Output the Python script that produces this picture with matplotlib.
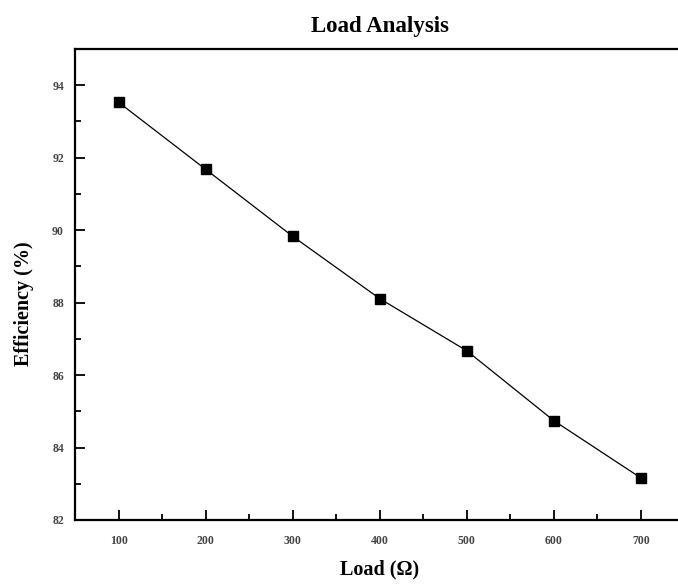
import numpy as np
import matplotlib
matplotlib.use('Agg')
import matplotlib.pyplot as plt
from matplotlib.ticker import MultipleLocator

# Efficiency measured at each load resistance
load = [100, 200, 300, 400, 500, 600, 700]
efficiency = [93.53, 91.68, 89.83, 88.11, 86.67, 84.74, 83.16]

plt.rcParams['font.family'] = ['Liberation Serif', 'DejaVu Serif']

fig = plt.figure(figsize=(6.78, 5.86), dpi=100)
ax = fig.add_axes([75 / 678, 66 / 586, 609.5 / 678, 471 / 586])

ax.plot(load, efficiency, color='black', linewidth=0.9,
        marker='s', markersize=7.5, markerfacecolor='black', markeredgecolor='black')

ax.set_xlim(50, 750)
ax.set_ylim(82, 95)
ax.xaxis.set_major_locator(MultipleLocator(100))
ax.xaxis.set_minor_locator(MultipleLocator(50))
ax.yaxis.set_major_locator(MultipleLocator(2))
ax.yaxis.set_minor_locator(MultipleLocator(1))
ax.set_xticks([100, 200, 300, 400, 500, 600, 700])

ax.tick_params(which='major', direction='in', length=7, width=1.3,
               labelsize=8.5, labelcolor='#444444', pad=8)
ax.tick_params(which='minor', direction='in', length=4, width=1.3)
ax.tick_params(axis='x', which='major', pad=11)
ax.tick_params(top=False, right=False, which='both')
for lbl in ax.get_xticklabels() + ax.get_yticklabels():
    lbl.set_fontweight('bold')

for s in ax.spines.values():
    s.set_linewidth(1.6)

ax.set_title('Load Analysis', fontsize=16.5, fontweight='bold', pad=12)
ax.set_xlabel('Load (Ω)', fontsize=14.5, fontweight='bold', labelpad=9)
ax.set_ylabel('Efficiency (%)', fontsize=14.5, fontweight='bold')
ax.yaxis.set_label_coords(-0.068, 0.46)

fig.savefig('out.png', dpi=100)
